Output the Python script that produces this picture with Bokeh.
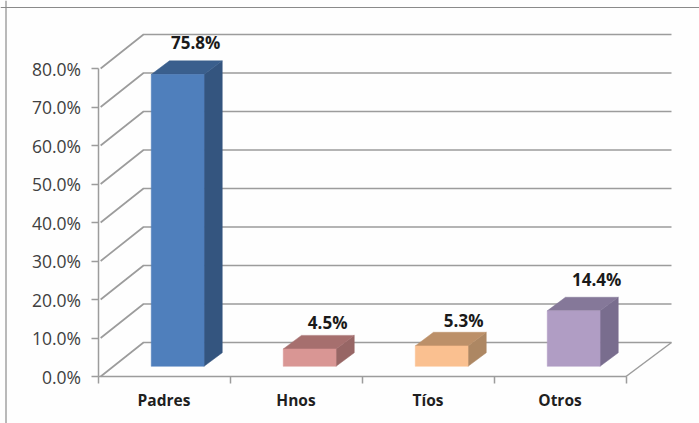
from bokeh.embed import file_html
from bokeh.resources import INLINE
from bokeh.plotting import figure
from bokeh.models import LinearAxis, FixedTicker, Span
from bokeh.core.properties import value

categories = ["Padres", "Hnos", "Tíos", "Otros"]
values = [75.8, 4.5, 5.3, 14.4]
value_labels = ["75.8%", "4.5%", "5.3%", "14.4%"]
y_ticks = [0, 10, 20, 30, 40, 50, 60, 70, 80]
y_tick_labels = ["0.0%", "10.0%", "20.0%", "30.0%", "40.0%", "50.0%", "60.0%", "70.0%", "80.0%"]
front_colors = ["#4F7FBC", "#D99694", "#FAC090", "#B09DC4"]
top_colors = ["#3A5F8D", "#A66F6E", "#BC9069", "#857899"]
side_colors = ["#34557F", "#976665", "#AD8763", "#796D8E"]

W, H = 699, 423
PX_X, PX_Y = 132.0, 3.85          # px per category / per percent
X0, Y0 = 97.5, 376.0              # page position of the origin
DX, DY = 45.5 / PX_X, 34 / PX_Y   # floor depth
Z0, Z1 = 0.30, 0.70               # bar position in depth
BAR_W = 0.40
LABEL_DX = [18, 18, 22, 23]
LABEL_DY = [18, 13, 11.5, 17.5]
GRID = "#9C9C9C"

p = figure(width=W, height=H, output_backend="svg", toolbar_location=None,
           x_range=(-X0 / PX_X, (W - X0) / PX_X),
           y_range=((Y0 - H) / PX_Y, Y0 / PX_Y),
           min_border=0, min_border_left=0, min_border_right=0,
           min_border_top=0, min_border_bottom=0,
           x_axis_type=None, y_axis_type=None,
           margin=(0, 0, 0, 0), outline_line_color=None,
           background_fill_color="#FEFEFE", border_fill_color="#FEFEFE")
p.grid.visible = False

# page frame: only the top and left edges are visible
p.add_layout(Span(location=(5.5 - X0) / PX_X, dimension="height", line_color="#8A8A8A", line_width=1.2))
p.add_layout(Span(location=(Y0 - 7.0) / PX_Y, dimension="width", line_color="#8A8A8A", line_width=1.2))

n = len(categories)
# walls and floor
for t in y_ticks:
    p.line([0.02, DX, n + DX], [t, t + DY, t + DY], line_color=GRID, line_width=1.7)
p.line([n, n + DX], [0, DY], line_color=GRID, line_width=1.5)

# bars
for i, v in enumerate(values):
    xl = i + 0.5 - BAR_W / 2 + Z0 * DX
    xr = xl + BAR_W
    yb = Z0 * DY
    yt = yb + v
    ox = (Z1 - Z0) * DX
    oy = (Z1 - Z0) * DY
    p.patch([xr, xr + ox, xr + ox, xr], [yb, yb + oy, yt + oy, yt], fill_color=side_colors[i], line_color=side_colors[i], line_width=0.5)
    p.patch([xl, xr, xr + ox, xl + ox], [yt, yt, yt + oy, yt + oy], fill_color=top_colors[i], line_color=top_colors[i], line_width=0.5)
    p.quad(left=xl, right=xr, bottom=yb, top=yt, fill_color=front_colors[i], line_color=front_colors[i], line_width=0.5)
    p.text([i + 0.5 + Z0 * DX + LABEL_DX[i] / PX_X], [yt + oy + LABEL_DY[i] / PX_Y], text=[value_labels[i]],
           text_align="center", text_baseline="middle", text_font=value("Open Sans"),
           text_font_style="bold", text_font_size="17px", text_color="#1A1A1A")

# axes
ya = LinearAxis(fixed_location=0, bounds=(0, 80), ticker=FixedTicker(ticks=y_ticks),
                major_label_overrides={t: s for t, s in zip(y_ticks, y_tick_labels)},
                major_label_text_font="Open Sans", major_label_text_font_size="17.5px",
                major_label_text_color="#404040", major_label_standoff=10,
                major_tick_in=0, major_tick_out=7, minor_tick_out=0, minor_tick_in=0,
                axis_line_color=GRID, axis_line_width=1.5,
                major_tick_line_color=GRID, major_tick_line_width=1.5)
p.add_layout(ya, "left")

xa = LinearAxis(fixed_location=0, bounds=(0, n),
                ticker=FixedTicker(ticks=[i + 0.5 for i in range(n)], minor_ticks=list(range(n + 1))),
                major_label_overrides={i + 0.5: c for i, c in enumerate(categories)},
                major_label_text_font="Open Sans", major_label_text_font_style="bold",
                major_label_text_font_size="15.5px", major_label_text_color="#1F1F1F",
                major_label_standoff=5, major_tick_in=0, major_tick_out=0,
                minor_tick_in=0, minor_tick_out=7, minor_tick_line_color=GRID, minor_tick_line_width=1.5,
                axis_line_color=GRID, axis_line_width=1.7)
p.add_layout(xa, "below")

open("out.html", "w").write(file_html(p, INLINE))
